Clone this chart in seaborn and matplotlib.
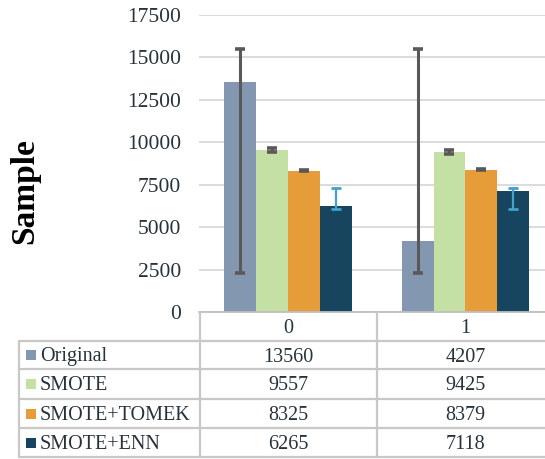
import numpy as np
import pandas as pd
import matplotlib
matplotlib.use("Agg")
import matplotlib.pyplot as plt
import matplotlib.transforms as mtransforms
from matplotlib.lines import Line2D
from matplotlib.patches import Rectangle
import seaborn as sns

categories = ["0", "1"]
methods = ["Original", "SMOTE", "SMOTE+TOMEK", "SMOTE+ENN"]
original = [13560, 4207]
smote = [9557, 9425]
smote_tomek = [8325, 8379]
smote_enn = [6265, 7118]
# error bar extents (lower, upper)
original_lo = [2300, 2300]
original_hi = [15500, 15500]
smote_lo = [9450, 9320]
smote_hi = [9660, 9530]
tomek_lo = [8290, 8340]
tomek_hi = [8360, 8420]
enn_lo = [6070, 6070]
enn_hi = [7300, 7300]
yticks = [0, 2500, 5000, 7500, 10000, 12500, 15000, 17500]

colors = ["#8497B0", "#C5E0A5", "#E69C38", "#17455F"]
err_colors = ["#595959", "#595959", "#595959", "#3FA3CC"]
txt_color = "#26333C"

values = [original, smote, smote_tomek, smote_enn]
lows = [original_lo, smote_lo, tomek_lo, enn_lo]
highs = [original_hi, smote_hi, tomek_hi, enn_hi]

rows = []
for m, v in zip(methods, values):
    for c, val in zip(categories, v):
        rows.append({"cat": c, "method": m, "value": val})
df = pd.DataFrame(rows)

sns.set_theme(style="white")
plt.rcParams["font.family"] = ["Liberation Serif", "DejaVu Serif"]

W, H = 545, 459
fig = plt.figure(figsize=(W / 100, H / 100), dpi=100)
ax = fig.add_axes([199 / W, 1 - 312 / H, (545 - 199) / W, (312 - 15) / H])

sns.barplot(data=df, x="cat", y="value", hue="method", order=categories,
            hue_order=methods, palette=colors, width=0.72, errorbar=None,
            saturation=1, edgecolor="none", ax=ax, legend=False, zorder=2)

bar_conts = list(ax.containers)
for j, cont in enumerate(bar_conts):
    xs = [p.get_x() + p.get_width() / 2 for p in cont.patches]
    v = np.array(values[j], dtype=float)
    lo = v - np.array(lows[j])
    hi = np.array(highs[j]) - v
    lw = 2.2 if j < 3 else 1.6
    ax.errorbar(xs, v, yerr=[lo, hi], fmt="none", ecolor=err_colors[j],
                elinewidth=lw, capsize=3.5, capthick=lw + 0.4, zorder=3)

ax.set_ylim(0, 17500)
ax.set_xlim(-0.501, 1.448)
ax.set_yticks(yticks)
ax.set_yticklabels([str(t) for t in yticks], fontsize=15.5, color=txt_color)
ax.yaxis.grid(True, color="#D9D9D9", linewidth=1.3, zorder=0)
ax.set_axisbelow(True)
ax.tick_params(axis="y", length=0, pad=13)
ax.tick_params(axis="x", length=0, pad=5, labelsize=14.5, labelcolor=txt_color)
ax.set_xlabel("")
ax.set_ylabel("Sample", fontsize=24, fontweight="bold", color="black",
              va="center")
ax.yaxis.set_label_coords(-(199 - 25) / (545 - 199), (312 - 191) / (312 - 15))
for s in ["top", "right", "left"]:
    ax.spines[s].set_visible(False)
ax.spines["bottom"].set_color("#BFBFBF")
ax.spines["bottom"].set_linewidth(1.3)

# data table drawn below the axis
def fy(y):
    return 1 - y / H

def fx(x):
    return x / W

line_c = "#C8C8C8"
row_lines = [341, 369, 399, 428, 457]
for y in row_lines:
    fig.add_artist(Line2D([fx(19), fx(545)], [fy(y), fy(y)], color=line_c, lw=1.6,
                          transform=fig.transFigure))
fig.add_artist(Line2D([fx(19), fx(19)], [fy(341), fy(457)], color=line_c, lw=1.6,
                      transform=fig.transFigure))
fig.add_artist(Line2D([fx(200), fx(200)], [fy(312), fy(457)], color=line_c, lw=1.6,
                      transform=fig.transFigure))
fig.add_artist(Line2D([fx(377), fx(377)], [fy(312), fy(457)], color=line_c, lw=1.6,
                      transform=fig.transFigure))

blend = mtransforms.blended_transform_factory(ax.transData, fig.transFigure)
row_tops = [341, 369, 399, 428]
row_bots = [369, 399, 428, 457]
for i, m in enumerate(methods):
    yc = (row_tops[i] + row_bots[i]) / 2
    fig.add_artist(Rectangle((fx(26), fy(yc + 5)), 10 / W, 10 / H,
                             facecolor=colors[i], edgecolor="none",
                             transform=fig.transFigure))
    fig.text(fx(40), fy(yc + 2), m, fontsize=14.5, color=txt_color,
             ha="left", va="center")
    for k in range(len(categories)):
        fig.text(k, fy(yc + 2), str(values[i][k]), fontsize=14.5, color=txt_color,
                 ha="center", va="center", transform=blend)

fig.savefig("out.png", dpi=100)
